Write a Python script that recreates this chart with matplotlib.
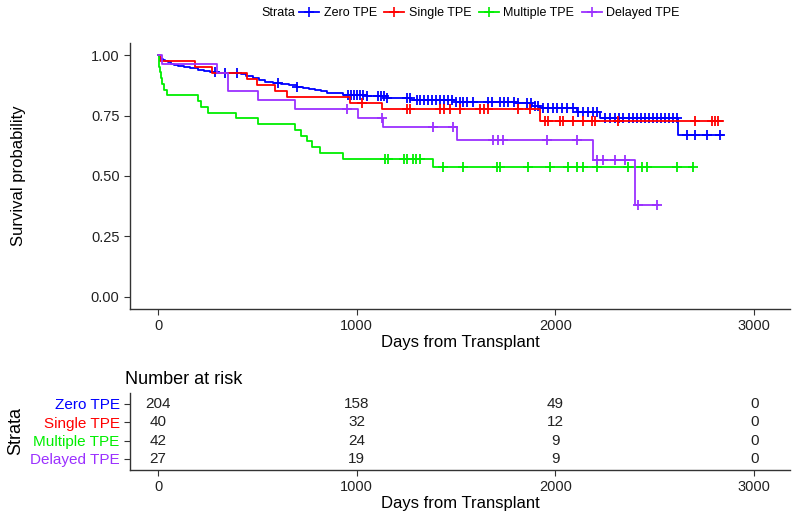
import numpy as np
from matplotlib import pyplot as plt
from matplotlib.lines import Line2D

plt.rcParams['font.family'] = ['Liberation Sans', 'DejaVu Sans']

STRATA = ["Zero TPE", "Single TPE", "Multiple TPE", "Delayed TPE"]
COLORS = ["#0000FF", "#FF0000", "#00EE00", "#9B30FF"]

# step curves: event time (days) and survival just after it
blue_t = [0, 3, 8, 15, 25, 35, 50, 65, 80, 100, 130, 160, 200, 230, 260, 300, 420, 445, 480, 510,
          540, 580, 620, 660, 700, 730, 760, 790, 820, 850, 930, 1050, 1150, 1270, 1500, 1800, 1880,
          1920, 2110, 2225, 2617]
blue_s = [1.0, .995, .99, .985, .98, .975, .97, .965, .96, .955, .95, .945, .94, .935, .93, .925, .92,
          .915, .905, .895, .89, .885, .88, .875, .87, .865, .86, .855, .85, .845, .835, .83, .822, .814,
          .807, .80, .79, .78, .765, .738, .669]
blue_end = 2843
blue_cens = [287, 337, 398, 604, 700, 956, 970, 985, 1000, 1015, 1030, 1052, 1107, 1120, 1135, 1152,
             1253, 1268, 1303, 1320, 1340, 1360, 1380, 1400, 1420, 1440, 1460, 1480, 1500, 1520, 1535,
             1555, 1585, 1660, 1680, 1721, 1740, 1760, 1790, 1812, 1857, 1875, 1897, 1912, 1935, 1960,
             1985, 2010, 2035, 2060, 2088, 2114, 2140, 2165, 2190, 2209, 2250, 2275, 2300, 2320, 2340,
             2370, 2390, 2410, 2430, 2450, 2470, 2490, 2510, 2530, 2550, 2570, 2590, 2610, 2662, 2703,
             2763, 2828]

red_t = [0, 10, 186, 272, 447, 498, 589, 649, 966, 1127, 1922]
red_s = [1.0, .975, .95, .925, .90, .875, .85, .825, .80, .777, .726]
red_end = 2843
red_cens = [1025, 1253, 1268, 1419, 1440, 1470, 1520, 1620, 1640, 1660, 1812, 1872, 1948, 1963, 2023,
            2038, 2088, 2139, 2184, 2199, 2315, 2703, 2788, 2803, 2818]

grn_t = [0, 3, 6, 10, 15, 20, 30, 45, 200, 215, 252, 390, 505, 690, 720, 750, 775, 815, 930, 1385]
grn_s = [1.0, .976, .952, .929, .905, .881, .857, .833, .81, .786, .762, .738, .714, .69, .667, .643,
         .619, .595, .571, .538]
grn_end = 2693
grn_cens = [1140, 1155, 1240, 1255, 1285, 1300, 1320, 1435, 1535, 1705, 1720, 1862, 1973, 2063, 2108,
            2139, 2209, 2365, 2436, 2461, 2612, 2693]

pur_t = [0, 20, 297, 352, 503, 690, 1007, 1133, 1505, 2190, 2400]
pur_s = [1.0, .963, .926, .852, .815, .778, .740, .704, .649, .567, .378]
pur_end = 2516
pur_cens = [950, 1127, 1385, 1485, 1686, 1711, 1736, 1958, 2109, 2209, 2240, 2300, 2350, 2416, 2511]

risk_times = [0, 1000, 2000, 3000]
risk_zero = [204, 158, 49, 0]
risk_single = [40, 32, 12, 0]
risk_multiple = [42, 24, 9, 0]
risk_delayed = [27, 19, 9, 0]

curves = [(blue_t, blue_s, blue_end, blue_cens),
          (red_t, red_s, red_end, red_cens),
          (grn_t, grn_s, grn_end, grn_cens),
          (pur_t, pur_s, pur_end, pur_cens)]
risks = [risk_zero, risk_single, risk_multiple, risk_delayed]

fig = plt.figure(figsize=(8, 5.18), dpi=100)
ax = fig.add_axes([0.1625, 0.4035, 0.825, 0.5135])
ax_r = fig.add_axes([0.1625, 0.0927, 0.825, 0.149])

xlim = (-141, 3180)
for (t, s, end, cens), col in zip(curves, COLORS):
    t = np.array(t, dtype=float)
    s = np.array(s)
    ax.step(np.append(t, end), np.append(s, s[-1]), where="post", color=col, lw=1.3)
    idx = np.searchsorted(t, cens, side="right") - 1
    ax.plot(cens, s[idx], ls="none", marker="+", ms=7.5, mew=1.3, color=col)

ax.set_xlim(*xlim)
ax.set_ylim(-0.05, 1.05)
ax.set_yticks([0, 0.25, 0.5, 0.75, 1.0])
ax.set_yticklabels(["0.00", "0.25", "0.50", "0.75", "1.00"])
ax.set_xticks(risk_times)
ax.set_xlabel("Days from Transplant", fontsize=12, labelpad=1)
ax.set_ylabel("Survival probability", fontsize=12)
ax.yaxis.set_label_coords(-0.157, 0.5)

# risk table
for i, (row, col) in enumerate(zip(risks, COLORS)):
    y = 4 - i
    for x, n in zip(risk_times, row):
        ax_r.text(x, y, str(n), ha="center", va="center", fontsize=11, color="#222222")
ax_r.set_xlim(*xlim)
ax_r.set_ylim(0.4, 4.6)
ax_r.set_xticks(risk_times)
ax_r.set_yticks([4, 3, 2, 1])
ax_r.set_yticklabels(STRATA, fontsize=11)
ax_r.set_xlabel("Days from Transplant", fontsize=12, labelpad=1)
ax_r.set_ylabel("Strata", fontsize=13, labelpad=4)
ax_r.set_title("Number at risk", loc="left", fontsize=13, x=-0.007, pad=6)

for a in (ax, ax_r):
    for side in ("top", "right"):
        a.spines[side].set_visible(False)
    for side in ("left", "bottom"):
        a.spines[side].set_color("#333333")
        a.spines[side].set_linewidth(1.0)
    a.tick_params(axis="both", length=4, color="#333333", labelsize=10.5, labelcolor="#222222")
ax_r.tick_params(axis="y", labelsize=11)
for lab, col in zip(ax_r.get_yticklabels(), COLORS):
    lab.set_color(col)

# legend
handles = [Line2D([], [], color=c, marker="+", ms=7, mew=1.2, lw=1.3) for c in COLORS]
fig.text(0.327, 0.975, "Strata", ha="left", va="center", fontsize=9)
fig.legend(handles, STRATA, loc="center left", bbox_to_anchor=(0.368, 0.975), ncol=4, frameon=False,
           fontsize=9, handlelength=1.6, handletextpad=0.35, columnspacing=0.6, borderaxespad=0)

fig.savefig("out.png", dpi=100)
